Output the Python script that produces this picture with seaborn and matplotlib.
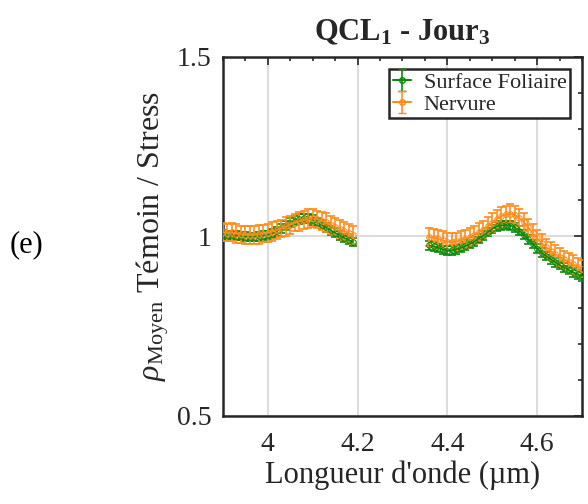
import numpy as np
import pandas as pd
import matplotlib
matplotlib.use('Agg')
import matplotlib.pyplot as plt
import seaborn as sns
from matplotlib.ticker import MultipleLocator, FixedLocator, FixedFormatter

# Longueurs d'onde (µm), deux plages spectrales
lambda_1 = [3.90, 3.91, 3.92, 3.93, 3.94, 3.95, 3.96, 3.97, 3.98, 3.99,
            4.00, 4.01, 4.02, 4.03, 4.04, 4.05, 4.06, 4.07, 4.08, 4.09,
            4.10, 4.11, 4.12, 4.13, 4.14, 4.15, 4.16, 4.17, 4.18, 4.19]
lambda_2 = [4.36, 4.37, 4.38, 4.39, 4.40, 4.41, 4.42, 4.43, 4.44, 4.45,
            4.46, 4.47, 4.48, 4.49, 4.50, 4.51, 4.52, 4.53, 4.54, 4.55,
            4.56, 4.57, 4.58, 4.59, 4.60, 4.61, 4.62, 4.63, 4.64, 4.65,
            4.66, 4.67, 4.68, 4.69, 4.70]

# Surface foliaire (vert)
surf_1 = [1.005, 1.003, 1.004, 1.002, 1.000, 0.999, 0.998, 0.999, 1.000, 1.002,
          1.004, 1.008, 1.014, 1.022, 1.030, 1.038, 1.044, 1.048, 1.050, 1.049,
          1.046, 1.040, 1.033, 1.025, 1.017, 1.010, 1.003, 0.996, 0.990, 0.984]
surf_2 = [0.975, 0.972, 0.968, 0.963, 0.960, 0.961, 0.964, 0.968, 0.973, 0.979,
          0.986, 0.994, 1.003, 1.012, 1.021, 1.028, 1.031, 1.032, 1.030, 1.025,
          1.016, 1.005, 0.992, 0.979, 0.966, 0.955, 0.945, 0.936, 0.928, 0.920,
          0.913, 0.906, 0.900, 0.894, 0.889]
surf_err_1 = [0.012, 0.011, 0.012, 0.012, 0.011, 0.012, 0.012, 0.011, 0.012, 0.012,
              0.012, 0.012, 0.013, 0.012, 0.013, 0.013, 0.012, 0.013, 0.013, 0.012,
              0.013, 0.012, 0.013, 0.012, 0.012, 0.012, 0.012, 0.012, 0.012, 0.012]
surf_err_2 = [0.012, 0.012, 0.012, 0.011, 0.012, 0.012, 0.012, 0.012, 0.012, 0.012,
              0.012, 0.012, 0.012, 0.012, 0.012, 0.012, 0.012, 0.012, 0.012, 0.012,
              0.012, 0.012, 0.012, 0.012, 0.012, 0.012, 0.012, 0.012, 0.012, 0.012,
              0.012, 0.012, 0.012, 0.012, 0.012]

# Nervure (orange)
nerv_1 = [1.012, 1.010, 1.011, 1.008, 1.006, 1.005, 1.004, 1.005, 1.006, 1.008,
          1.010, 1.013, 1.017, 1.022, 1.028, 1.033, 1.038, 1.042, 1.046, 1.049,
          1.050, 1.048, 1.044, 1.039, 1.033, 1.027, 1.021, 1.015, 1.009, 1.004]
nerv_2 = [0.998, 0.996, 0.993, 0.989, 0.985, 0.984, 0.986, 0.989, 0.993, 0.998,
          1.004, 1.011, 1.019, 1.028, 1.038, 1.048, 1.056, 1.061, 1.063, 1.060,
          1.052, 1.040, 1.025, 1.010, 0.995, 0.982, 0.970, 0.960, 0.951, 0.943,
          0.936, 0.929, 0.922, 0.916, 0.910]
nerv_err_1 = [0.026, 0.024, 0.025, 0.026, 0.024, 0.025, 0.024, 0.025, 0.026, 0.024,
              0.025, 0.026, 0.025, 0.024, 0.026, 0.025, 0.024, 0.026, 0.025, 0.026,
              0.025, 0.024, 0.025, 0.026, 0.025, 0.024, 0.025, 0.024, 0.025, 0.024]
nerv_err_2 = [0.024, 0.025, 0.024, 0.025, 0.024, 0.025, 0.024, 0.025, 0.024, 0.025,
              0.024, 0.025, 0.024, 0.025, 0.026, 0.025, 0.026, 0.025, 0.026, 0.025,
              0.024, 0.025, 0.024, 0.025, 0.024, 0.025, 0.024, 0.025, 0.024, 0.025,
              0.024, 0.025, 0.026, 0.025, 0.024]

series = ['Surface Foliaire', 'Nervure']
couleurs = {'Surface Foliaire': '#0a8a0a', 'Nervure': '#ff8c1a'}

x_ticks = [4, 4.2, 4.4, 4.6]
x_labels = ['4', '4.2', '4.4', '4.6']
y_ticks = [0.5, 1, 1.5]
y_labels = ['0.5', '1', '1.5']

# Tableau long pour seaborn
lignes = []
for nom, segs in [('Surface Foliaire', [(lambda_1, surf_1, surf_err_1), (lambda_2, surf_2, surf_err_2)]),
                  ('Nervure', [(lambda_1, nerv_1, nerv_err_1), (lambda_2, nerv_2, nerv_err_2)])]:
    for i, (xs, ys, es) in enumerate(segs):
        for x, y, e in zip(xs, ys, es):
            lignes.append({'lambda': x, 'rho': y, 'err': e, 'serie': nom, 'segment': i})
df = pd.DataFrame(lignes)

sns.set_theme(style='whitegrid')
plt.rcParams['font.family'] = ['Liberation Serif', 'DejaVu Serif']
plt.rcParams['mathtext.fontset'] = 'custom'
plt.rcParams['mathtext.rm'] = 'Liberation Serif'
plt.rcParams['mathtext.it'] = 'Liberation Serif:italic'
plt.rcParams['mathtext.bf'] = 'Liberation Serif:bold'

fig = plt.figure(figsize=(5.88, 5.04), dpi=100)
ax = fig.add_axes([0.379, 0.175, 0.611, 0.712])

handles = {}
for nom in series:
    sub = df[df['serie'] == nom]
    for seg, grp in sub.groupby('segment'):
        ax.errorbar(grp['lambda'], grp['rho'], yerr=grp['err'], fmt='none',
                    ecolor=couleurs[nom], elinewidth=1.2, capsize=3,
                    capthick=1.2, zorder=3)
    sns.lineplot(data=sub, x='lambda', y='rho', units='segment', estimator=None,
                 color=couleurs[nom], marker='o', markersize=4, linewidth=1.2,
                 markeredgecolor=couleurs[nom], markerfacecolor='none',
                 ax=ax, zorder=4, legend=False)
    handles[nom] = ax.errorbar([np.nan], [np.nan], yerr=[np.nan], fmt='-o',
                               color=couleurs[nom], markersize=4,
                               markerfacecolor='none', capsize=3, elinewidth=1.2)

ax.set_xlim(3.9, 4.7)
ax.set_ylim(0.5, 1.5)
ax.xaxis.set_major_locator(FixedLocator(x_ticks))
ax.xaxis.set_major_formatter(FixedFormatter(x_labels))
ax.yaxis.set_major_locator(FixedLocator(y_ticks))
ax.yaxis.set_major_formatter(FixedFormatter(y_labels))
ax.xaxis.set_minor_locator(MultipleLocator(0.05))
ax.yaxis.set_minor_locator(MultipleLocator(0.1))
ax.tick_params(which='both', direction='in', top=True, right=True,
               color='#262626', labelsize=20, labelcolor='#262626')
ax.tick_params(axis='x', which='major', pad=12)
ax.tick_params(axis='y', which='major', pad=8)
ax.tick_params(which='major', length=6, width=1.2)
ax.tick_params(which='minor', length=3, width=1.2)
ax.grid(True, which='major', color='#dcdcdc', linewidth=1.5)
ax.grid(False, which='minor')
ax.set_facecolor('white')
for sp in ax.spines.values():
    sp.set_color('#262626')
    sp.set_linewidth(1.8)

ax.set_xlabel("Longueur d'onde (µm)", fontsize=22, color='#262626', labelpad=2)
ax.set_ylabel(r"$\it{\rho}_{\mathrm{Moyen}}$ Témoin / Stress", fontsize=23,
              color='#262626', labelpad=4)
ax.set_title(r"QCL$_{\mathbf{1}}$ - Jour$_{\mathbf{3}}$", fontsize=22,
             fontweight='bold', pad=12)

leg = ax.legend([handles[n] for n in series], series, loc='upper right',
                fontsize=16, frameon=True, fancybox=False, borderpad=0.15,
                handlelength=0.8, handletextpad=0.6, labelspacing=0.05,
                borderaxespad=0.3, bbox_to_anchor=(0.985, 0.985))
leg.get_frame().set_edgecolor('#262626')
leg.get_frame().set_linewidth(1.8)
leg.get_frame().set_alpha(1)

fig.text(0.017, 0.514, '(e)', fontsize=22, va='center', ha='left', color='black')

fig.savefig('out.png', dpi=100, facecolor='white')
